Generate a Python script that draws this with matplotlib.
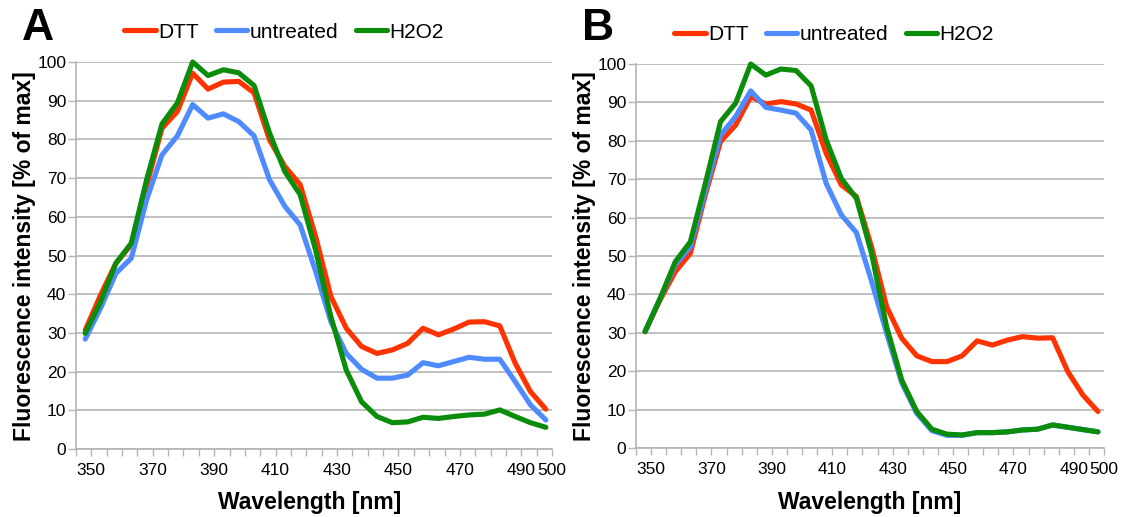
import matplotlib
matplotlib.use("Agg")
import matplotlib.pyplot as plt
from matplotlib.lines import Line2D

plt.rcParams['font.family'] = ['Liberation Sans', 'DejaVu Sans']

# ---------------- data ----------------
wavelength = [348, 353, 358, 363, 368, 373, 378, 383, 388, 393, 398, 403, 408, 413, 418,
              423, 428, 433, 438, 443, 448, 453, 458, 463, 468, 473, 478, 483, 488, 493, 498]

a_dtt = [30.7, 39.8, 48, 52.8, 68, 82.9, 87.2, 97.1, 93, 94.8, 95, 92, 79.9, 73, 68.3,
         55, 39.4, 31.2, 26.5, 24.7, 25.6, 27.3, 31.2, 29.5, 31, 32.8, 32.9, 31.8, 22.2, 14.8, 10.3]
a_untreated = [28.4, 36.4, 45.4, 49.3, 64.4, 76, 80.9, 89, 85.5, 86.6, 84.6, 80.9, 69.6, 62.7, 57.9,
               46, 32.9, 24.7, 20.6, 18.3, 18.3, 19.1, 22.3, 21.5, 22.6, 23.7, 23.2, 23.2, 17.4, 11.4, 7.5]
a_h2o2 = [29.9, 38.1, 48, 53.2, 69.6, 84, 89.4, 100, 96.5, 98, 97.2, 93.9, 81.7, 71.7, 65.7,
          51.5, 34.2, 20.4, 12.2, 8.4, 6.8, 7.0, 8.2, 7.9, 8.4, 8.8, 9.0, 10.1, 8.4, 6.8, 5.6]

b_dtt = [30.3, 38.6, 45.9, 50.7, 66, 79.8, 84.1, 91.5, 89.6, 90.2, 89.6, 88, 76.7, 68.5, 65.5,
         52.4, 36.8, 28.6, 24, 22.5, 22.5, 24, 27.9, 26.8, 28.1, 29, 28.6, 28.7, 19.9, 13.8, 9.5]
b_untreated = [30.3, 39, 47.7, 52.4, 67, 81.5, 86.3, 93, 88.7, 88, 87.2, 82.8, 68.9, 60.7, 56.1,
               43.5, 29.9, 17, 9, 4.5, 3.3, 3.3, 4, 4, 4.2, 4.7, 4.9, 6.0, 5.4, 4.8, 4.2]
b_h2o2 = [30.3, 39, 48.5, 53.7, 69, 85, 89.8, 100, 97.1, 98.7, 98.3, 94.3, 80.2, 70.2, 65,
          50.7, 31.6, 17.7, 9.5, 4.9, 3.6, 3.4, 4, 4, 4.2, 4.7, 4.9, 6.0, 5.4, 4.8, 4.2]

series_names = ["DTT", "untreated", "H2O2"]
x_tick_labels = [350, 370, 390, 410, 430, 450, 470, 490, 500]
y_ticks = [0, 10, 20, 30, 40, 50, 60, 70, 80, 90, 100]
panel_letters = ["A", "B"]

colors = ['#ff3300', '#4f8bff', '#0b8c0b']
grid_col = '#b4b4b4'

W, H = 1123, 517
fig = plt.figure(figsize=(W / 100, H / 100), dpi=100)


def px_axes(left, top, right, bottom):
    return fig.add_axes([left / W, (H - bottom) / H, (right - left) / W, (bottom - top) / H])


def style(ax):
    ax.set_xlim(345, 500)
    ax.set_ylim(0, 100)
    ax.set_yticks(y_ticks)
    ax.set_xticks(x_tick_labels)
    ax.set_xticks(list(range(345, 501, 5)), minor=True)
    ax.tick_params(axis='x', which='both', direction='out', length=5, width=1,
                   color=grid_col, labelsize=12.5, pad=5)
    ax.tick_params(axis='y', which='major', direction='out', length=6, width=1,
                   color=grid_col, labelsize=12.5, pad=1)
    ax.grid(axis='y', color=grid_col, linewidth=1.2)
    ax.set_axisbelow(True)
    for s in ['top', 'right']:
        ax.spines[s].set_visible(False)
    for s in ['left', 'bottom']:
        ax.spines[s].set_color(grid_col)
        ax.spines[s].set_linewidth(1.2)


panels = [
    (px_axes(76, 62, 552, 449), [a_dtt, a_untreated, a_h2o2]),
    (px_axes(636, 64, 1104, 448), [b_dtt, b_untreated, b_h2o2]),
]

ylab_x = [25, 585]
xlab_x = [310, 870]
letter_x = [22, 582]
legend_cx = [284, 834]
legend_cy = [32, 35]

for i, (ax, data) in enumerate(panels):
    style(ax)
    for vals, c, name in zip(data, colors, series_names):
        ax.plot(wavelength, vals, color=c, lw=3.7, solid_joinstyle='round',
                solid_capstyle='round', label=name, clip_on=False)
    fig.text(ylab_x[i] / W, (H - 256) / H, "Fluorescence intensity [% of max]",
             rotation=90, ha='center', va='center', fontsize=16.5, fontweight='bold')
    fig.text(xlab_x[i] / W, (H - 502) / H, "Wavelength [nm]",
             ha='center', va='center', fontsize=16.5, fontweight='bold')
    fig.text(letter_x[i] / W, (H - 28) / H, panel_letters[i],
             ha='left', va='center', fontsize=32, fontweight='bold')
    handles = [Line2D([], [], color=c, lw=3.7, solid_capstyle='round') for c in colors]
    fig.legend(handles, series_names, loc='center',
               bbox_to_anchor=(legend_cx[i] / W, (H - legend_cy[i]) / H),
               ncol=3, frameon=False, fontsize=15, handlelength=1.5,
               handletextpad=0.1, columnspacing=0.85, borderpad=0, borderaxespad=0)

fig.savefig("out.png", dpi=100)
